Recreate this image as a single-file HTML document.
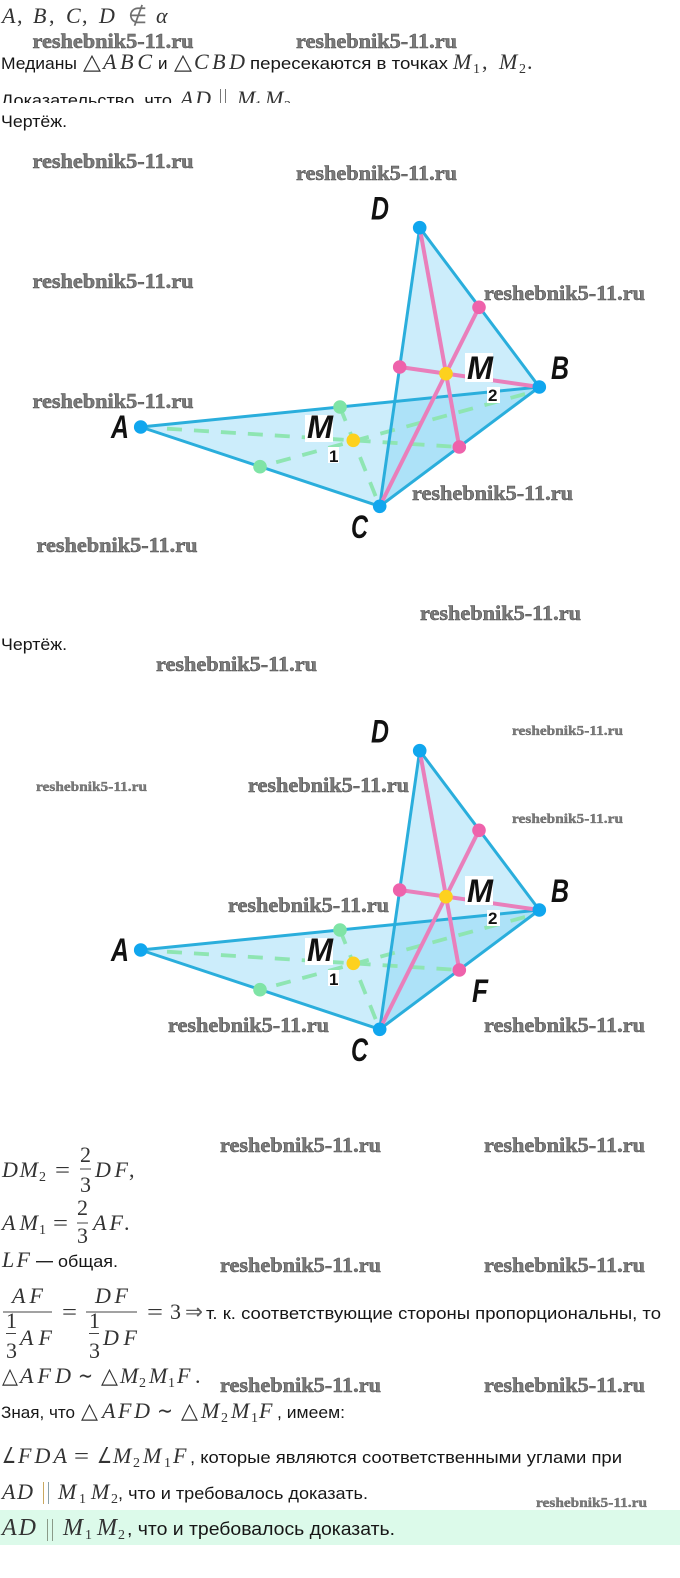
<!DOCTYPE html>
<html lang="ru"><head><meta charset="utf-8"><title>Чертёж</title>
<style>
html,body{margin:0;padding:0;background:#fff;width:680px;height:1578px;overflow:hidden}
svg{display:block}
.t{font-family:"Liberation Sans",sans-serif;font-size:17px;fill:#161616}
.m{font-family:"Liberation Serif",serif;font-style:italic;font-size:22px;fill:#333}
.b{font-size:24px}
.r{font-family:"Liberation Serif",serif;font-size:22px;fill:#333}
.s{font-family:"Liberation Serif",serif;font-size:14px;fill:#333}
.w{font-family:"Liberation Serif",serif;font-weight:bold;font-size:21px;fill:#7c7c7c;stroke:#4c4c4c;stroke-width:.5px}
.ws{font-family:"Liberation Serif",serif;font-weight:bold;font-size:14px;fill:#7c7c7c;stroke:#4c4c4c;stroke-width:.3px}
.l{font-family:"Liberation Sans",sans-serif;font-weight:bold;font-style:italic;font-size:32px;fill:#111}
.n{font-family:"Liberation Sans",sans-serif;font-weight:bold;font-size:17px;fill:#111}
</style></head><body>
<svg width="680" height="1578" viewBox="0 0 680 1578" xmlns="http://www.w3.org/2000/svg">
<defs>
<clipPath id="cl"><rect x="0" y="85" width="680" height="18"/></clipPath>
<g id="fig">
<polygon points="140.7,427 539.3,387 379.7,506.3" fill="#7fd2f5" fill-opacity=".4"/>
<polygon points="419.7,227.7 539.3,387 379.7,506.3" fill="#7fd2f5" fill-opacity=".4"/>
<g fill="none" stroke="#8ee5b2" stroke-width="3.8" stroke-dasharray="15 12">
<line x1="167" y1="428.7" x2="459.3" y2="447"/>
<line x1="525" y1="394" x2="260" y2="466.7"/>
<line x1="340" y1="407" x2="379.7" y2="506.3"/>
</g>
<g fill="none" stroke="#2aaedc" stroke-width="3">
<line x1="140.7" y1="427" x2="539.3" y2="387"/>
<line x1="140.7" y1="427" x2="379.7" y2="506.3"/>
<line x1="379.7" y1="506.3" x2="539.3" y2="387"/>
<line x1="419.7" y1="227.7" x2="539.3" y2="387"/>
<line x1="419.7" y1="227.7" x2="379.7" y2="506.3"/>
</g>
<g fill="none" stroke="#e97fbb" stroke-width="4">
<line x1="419.7" y1="227.7" x2="459.3" y2="447"/>
<line x1="479" y1="307.3" x2="379.7" y2="506.3"/>
<line x1="399.7" y1="367" x2="539.3" y2="387"/>
</g>
<rect x="465" y="353" width="28" height="29" fill="#fff"/>
<rect x="487" y="387" width="13" height="16" fill="#fff"/>
<rect x="305" y="415" width="28" height="27" fill="#fff"/>
<rect x="328" y="447" width="11" height="16" fill="#fff"/>
<g fill="#7fe4a6"><circle cx="340" cy="407" r="6.8"/><circle cx="260" cy="466.7" r="6.8"/></g>
<g fill="#ee62ab"><circle cx="479" cy="307.3" r="6.8"/><circle cx="399.7" cy="367" r="6.8"/><circle cx="459.3" cy="447" r="6.8"/></g>
<g fill="#10a6ee"><circle cx="419.7" cy="227.7" r="6.8"/><circle cx="539.3" cy="387" r="6.8"/><circle cx="140.7" cy="427" r="6.8"/><circle cx="379.7" cy="506.3" r="6.8"/></g>
<g fill="#fdd11e"><circle cx="446" cy="373.7" r="6.8"/><circle cx="353.3" cy="440.3" r="6.8"/></g>
</g>
</defs>

<rect x="0" y="1510" width="680" height="35" fill="#dcfaea"/>

<!-- line 1 -->
<text class="m" x="2" y="23">A</text><text class="r" x="17" y="23">,</text>
<text class="m" x="33" y="23">B</text><text class="r" x="49" y="23">,</text>
<text class="m" x="66" y="23">C</text><text class="r" x="82" y="23">,</text>
<text class="m" x="99" y="23">D</text>
<text class="r" x="128" y="23" fill-opacity=".7">∉</text><text class="m" x="156" y="23">α</text>

<!-- line 2 -->
<text class="t" x="1" y="69" textLength="76" lengthAdjust="spacingAndGlyphs">Медианы</text>
<text class="r" x="83" y="69" textLength="18" lengthAdjust="spacingAndGlyphs">△</text><text class="m" x="103" y="69" textLength="49">ABC</text>
<text class="t" x="158" y="69">и</text>
<text class="r" x="174" y="69" textLength="18" lengthAdjust="spacingAndGlyphs">△</text><text class="m" x="194" y="69" textLength="51">CBD</text>
<text class="t" x="250" y="69" textLength="198" lengthAdjust="spacingAndGlyphs">пересекаются в точках</text>
<text class="m" x="453" y="69">M</text><text class="s" x="473" y="73">1</text><text class="r" x="482" y="69">,</text>
<text class="m" x="499" y="69">M</text><text class="s" x="519" y="73">2</text><text class="r" x="527" y="69">.</text>

<!-- clipped line -->
<g clip-path="url(#cl)">
<text class="t" x="1" y="106" textLength="171" lengthAdjust="spacingAndGlyphs">Доказательство, что</text>
<text class="m" x="180" y="106" textLength="31">AD</text><rect x="220" y="89" width="1" height="20" fill="#777"/><rect x="225" y="89" width="1" height="20" fill="#777"/>
<text class="m" x="237" y="106">M</text><text class="s" x="255" y="110">1</text><text class="m" x="265" y="106">M</text><text class="s" x="284" y="110">2</text>
</g>

<text class="t" x="1" y="127" textLength="66" lengthAdjust="spacingAndGlyphs">Чертёж.</text>

<!-- figure 1 -->
<use href="#fig"/>
<text class="l" x="371" y="219.5" textLength="18" lengthAdjust="spacingAndGlyphs">D</text>
<text class="l" x="111" y="438" textLength="18" lengthAdjust="spacingAndGlyphs">A</text>
<text class="l" x="551" y="379" textLength="18" lengthAdjust="spacingAndGlyphs">B</text>
<text class="l" x="351" y="538" textLength="17" lengthAdjust="spacingAndGlyphs">C</text>
<text class="l" x="467" y="379" textLength="26" lengthAdjust="spacingAndGlyphs">M</text>
<text class="n" x="488" y="401">2</text>
<text class="l" x="307" y="438" textLength="26" lengthAdjust="spacingAndGlyphs">M</text>
<text class="n" x="329" y="462">1</text>

<text class="t" x="1" y="650" textLength="66" lengthAdjust="spacingAndGlyphs">Чертёж.</text>

<!-- figure 2 -->
<use href="#fig" y="523"/>
<text class="l" x="371" y="742.5" textLength="18" lengthAdjust="spacingAndGlyphs">D</text>
<text class="l" x="111" y="961" textLength="18" lengthAdjust="spacingAndGlyphs">A</text>
<text class="l" x="551" y="902" textLength="18" lengthAdjust="spacingAndGlyphs">B</text>
<text class="l" x="351" y="1061" textLength="17" lengthAdjust="spacingAndGlyphs">C</text>
<text class="l" x="472" y="1002" textLength="16" lengthAdjust="spacingAndGlyphs">F</text>
<text class="l" x="467" y="902" textLength="26" lengthAdjust="spacingAndGlyphs">M</text>
<text class="n" x="488" y="924">2</text>
<text class="l" x="307" y="961" textLength="26" lengthAdjust="spacingAndGlyphs">M</text>
<text class="n" x="329" y="985">1</text>

<!-- DM2 -->
<text class="m" x="2" y="1177" textLength="36">DM</text><text class="s" x="39" y="1181">2</text><text class="r" x="55" y="1177" textLength="15" lengthAdjust="spacingAndGlyphs">=</text>
<text class="r" x="80" y="1162">2</text><rect x="80" y="1168.5" width="11" height="1" fill="#444"/><text class="r" x="80" y="1192">3</text>
<text class="m" x="95" y="1177" textLength="33">DF</text><text class="r" x="129" y="1177">,</text>

<!-- AM1 -->
<text class="m" x="2" y="1230" textLength="36">AM</text><text class="s" x="39" y="1234">1</text><text class="r" x="53" y="1230" textLength="15" lengthAdjust="spacingAndGlyphs">=</text>
<text class="r" x="77" y="1215">2</text><rect x="77" y="1222.5" width="11" height="1" fill="#444"/><text class="r" x="77" y="1243">3</text>
<text class="m" x="93" y="1230" textLength="30">AF</text><text class="r" x="124" y="1230">.</text>

<!-- LF -->
<text class="m" x="2" y="1267" textLength="28">LF</text><rect x="36" y="1261" width="17" height="1.4" fill="#222"/>
<text class="t" x="58" y="1267" textLength="60" lengthAdjust="spacingAndGlyphs">общая.</text>

<!-- big fractions -->
<text class="m" x="12" y="1303" textLength="31">AF</text>
<rect x="3" y="1311.5" width="49" height="1" fill="#444"/>
<text class="r" x="6" y="1328">1</text><rect x="6" y="1333" width="10" height="1" fill="#444"/><text class="r" x="6" y="1358">3</text>
<text class="m" x="20" y="1345" textLength="32">AF</text>
<text class="r" x="62" y="1319" textLength="15" lengthAdjust="spacingAndGlyphs">=</text>
<text class="m" x="95" y="1303" textLength="33">DF</text>
<rect x="86" y="1311.5" width="51" height="1" fill="#444"/>
<text class="r" x="89" y="1328">1</text><rect x="89" y="1333" width="10" height="1" fill="#444"/><text class="r" x="89" y="1358">3</text>
<text class="m" x="103" y="1345" textLength="34">DF</text>
<text class="r" x="147" y="1319" textLength="16" lengthAdjust="spacingAndGlyphs">=</text><text class="r" x="170" y="1319">3</text><text class="r" x="185" y="1319" fill-opacity=".8" textLength="18" lengthAdjust="spacingAndGlyphs">⇒</text>
<text class="t" x="206" y="1319" textLength="455" lengthAdjust="spacingAndGlyphs">т. к. соответствующие стороны пропорциональны, то</text>

<!-- similar -->
<text class="r" x="2" y="1383" textLength="16" lengthAdjust="spacingAndGlyphs">△</text><text class="m" x="20" y="1383" textLength="51">AFD</text><text class="r" x="78" y="1383" textLength="15" lengthAdjust="spacingAndGlyphs">∼</text>
<text class="r" x="101" y="1383" textLength="17" lengthAdjust="spacingAndGlyphs">△</text>
<text class="m" x="120" y="1383">M</text><text class="s" x="139" y="1387">2</text><text class="m" x="149" y="1383">M</text><text class="s" x="168" y="1387">1</text><text class="m" x="177" y="1383">F</text><text class="r" x="195" y="1383">.</text>

<text class="t" x="1" y="1418" textLength="74" lengthAdjust="spacingAndGlyphs">Зная, что</text>
<text class="r" x="81" y="1418" textLength="17" lengthAdjust="spacingAndGlyphs">△</text><text class="m" x="102" y="1418" textLength="48">AFD</text><text class="r" x="157" y="1418" textLength="16" lengthAdjust="spacingAndGlyphs">∼</text>
<text class="r" x="181" y="1418" textLength="17" lengthAdjust="spacingAndGlyphs">△</text>
<text class="m" x="201" y="1418">M</text><text class="s" x="221" y="1422">2</text><text class="m" x="231" y="1418">M</text><text class="s" x="251" y="1422">1</text><text class="m" x="259" y="1418">F</text>
<text class="t" x="277" y="1418" textLength="68" lengthAdjust="spacingAndGlyphs">, имеем:</text>

<text class="r" x="2" y="1463" textLength="14" lengthAdjust="spacingAndGlyphs">∠</text><text class="m" x="18" y="1463" textLength="49">FDA</text><text class="r" x="74" y="1463" textLength="15" lengthAdjust="spacingAndGlyphs">=</text>
<text class="r" x="97" y="1463" textLength="15" lengthAdjust="spacingAndGlyphs">∠</text>
<text class="m" x="113" y="1463">M</text><text class="s" x="133" y="1467">2</text><text class="m" x="143" y="1463">M</text><text class="s" x="164" y="1467">1</text><text class="m" x="173" y="1463">F</text>
<text class="t" x="190" y="1463" textLength="432" lengthAdjust="spacingAndGlyphs">, которые являются соответственными углами при</text>

<text class="m" x="2" y="1499" textLength="31">AD</text><rect x="43" y="1482" width="1" height="22" fill="#c9a860"/><rect x="48" y="1482" width="1" height="22" fill="#8aa0a8"/>
<text class="m" x="58" y="1499">M</text><text class="s" x="79" y="1503">1</text><text class="m" x="91" y="1499">M</text><text class="s" x="111" y="1503">2</text>
<text class="t" x="118" y="1499" textLength="250" lengthAdjust="spacingAndGlyphs">, что и требовалось доказать.</text>

<text class="m b" x="2" y="1535" textLength="34">AD</text><rect x="47" y="1519" width="1" height="22" fill="#8a9a88"/><rect x="52" y="1519" width="1" height="22" fill="#8a9a88"/>
<text class="m b" x="63" y="1535">M</text><text class="s" x="85" y="1539">1</text><text class="m b" x="97" y="1535">M</text><text class="s" x="118" y="1539">2</text>
<text class="t" x="127" y="1535" style="font-size:18px" textLength="268" lengthAdjust="spacingAndGlyphs">, что и требовалось доказать.</text>

<!-- watermarks -->
<g>
<text class="w" x="32.5" y="48" textLength="161" lengthAdjust="spacingAndGlyphs">reshebnik5-11.ru</text>
<text class="w" x="296" y="48" textLength="161" lengthAdjust="spacingAndGlyphs">reshebnik5-11.ru</text>
<text class="w" x="32.5" y="168" textLength="161" lengthAdjust="spacingAndGlyphs">reshebnik5-11.ru</text>
<text class="w" x="296" y="180" textLength="161" lengthAdjust="spacingAndGlyphs">reshebnik5-11.ru</text>
<text class="w" x="32.5" y="288" textLength="161" lengthAdjust="spacingAndGlyphs">reshebnik5-11.ru</text>
<text class="w" x="484" y="300" textLength="161" lengthAdjust="spacingAndGlyphs">reshebnik5-11.ru</text>
<text class="w" x="32.5" y="408" textLength="161" lengthAdjust="spacingAndGlyphs">reshebnik5-11.ru</text>
<text class="w" x="412" y="500" textLength="161" lengthAdjust="spacingAndGlyphs">reshebnik5-11.ru</text>
<text class="w" x="36.5" y="552" textLength="161" lengthAdjust="spacingAndGlyphs">reshebnik5-11.ru</text>
<text class="w" x="420" y="620" textLength="161" lengthAdjust="spacingAndGlyphs">reshebnik5-11.ru</text>
<text class="w" x="156" y="671" textLength="161" lengthAdjust="spacingAndGlyphs">reshebnik5-11.ru</text>
<text class="w" x="248" y="792" textLength="161" lengthAdjust="spacingAndGlyphs">reshebnik5-11.ru</text>
<text class="w" x="228" y="912" textLength="161" lengthAdjust="spacingAndGlyphs">reshebnik5-11.ru</text>
<text class="w" x="168" y="1032" textLength="161" lengthAdjust="spacingAndGlyphs">reshebnik5-11.ru</text>
<text class="w" x="484" y="1032" textLength="161" lengthAdjust="spacingAndGlyphs">reshebnik5-11.ru</text>
<text class="w" x="220" y="1152" textLength="161" lengthAdjust="spacingAndGlyphs">reshebnik5-11.ru</text>
<text class="w" x="484" y="1152" textLength="161" lengthAdjust="spacingAndGlyphs">reshebnik5-11.ru</text>
<text class="w" x="220" y="1272" textLength="161" lengthAdjust="spacingAndGlyphs">reshebnik5-11.ru</text>
<text class="w" x="484" y="1272" textLength="161" lengthAdjust="spacingAndGlyphs">reshebnik5-11.ru</text>
<text class="w" x="220" y="1392" textLength="161" lengthAdjust="spacingAndGlyphs">reshebnik5-11.ru</text>
<text class="w" x="484" y="1392" textLength="161" lengthAdjust="spacingAndGlyphs">reshebnik5-11.ru</text>
<text class="ws" x="512" y="735" textLength="111" lengthAdjust="spacingAndGlyphs">reshebnik5-11.ru</text>
<text class="ws" x="36" y="791" textLength="111" lengthAdjust="spacingAndGlyphs">reshebnik5-11.ru</text>
<text class="ws" x="512" y="823" textLength="111" lengthAdjust="spacingAndGlyphs">reshebnik5-11.ru</text>
<text class="ws" x="536" y="1507" textLength="111" lengthAdjust="spacingAndGlyphs">reshebnik5-11.ru</text>
</g>
</svg>
</body></html>
